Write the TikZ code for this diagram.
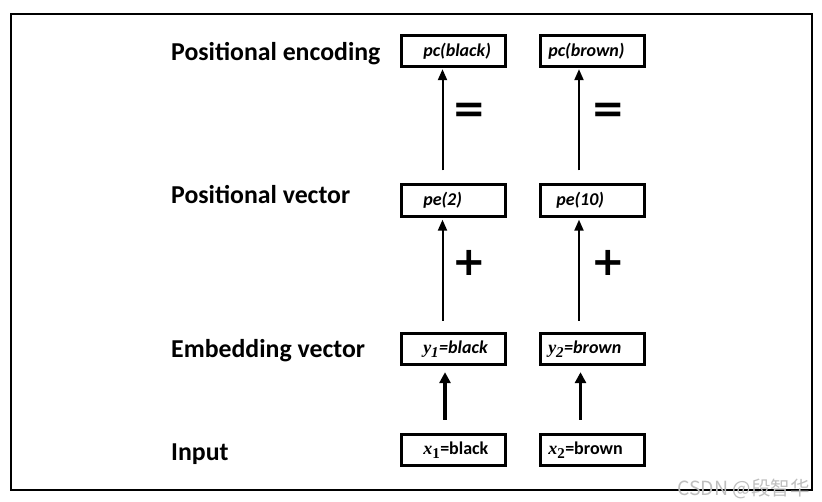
\documentclass[tikz,border=0pt]{standalone}
\usepackage{fontspec}
\setmainfont{Carlito}
\newfontfamily\mathlike{Liberation Serif}
\newfontfamily\heavy{DejaVu Sans}
\newfontfamily\cjk{Noto Sans CJK SC}
\usetikzlibrary{arrows.meta}
\tikzset{
  box/.style={draw, line width=2.8pt, minimum width=104.5pt, minimum height=31.5pt,
    inner sep=0pt, text width=104.5pt, align=left,
    font=\fontsize{18}{18}\selectfont\bfseries\itshape},
  rowlabel/.style={anchor=base west, inner sep=0pt, font=\fontsize{25.8}{25.8}\selectfont\bfseries},
  upar/.style={line width=2pt, -{Triangle[length=11pt,width=9pt]}},
  lowar/.style={line width=3.5pt, -{Triangle[length=11pt,width=11pt]}},
  sym/.style={inner sep=0pt, font=\heavy\bfseries\fontsize{40}{40}\selectfont},
}
\newcommand{\vx}[2]{{\mathlike\bfseries\itshape #1}\textsubscript{\mathlike\bfseries\fontsize{15}{15}\selectfont #2}}
\begin{document}
\begin{tikzpicture}[x=1pt,y=-1pt]
\useasboundingbox (0,0) rectangle (822,501);
\fill[white] (0,0) rectangle (822,501);
\draw[line width=1.4pt] (11,14) rectangle (812,490);

% row labels
\node[rowlabel] (l1) at (171,60) {Positional encoding};
\node[rowlabel] (l2) at (171,203) {Positional vector};
\node[rowlabel] (l3) at (171,357) {Embedding vector};
\node[rowlabel] (l4) at (171,460) {Input};

% boxes
\node[box] (pca) at (453.5,51) {\raisebox{2pt}{\hspace*{22pt}pc(black)}};
\node[box] (pcb) at (592.5,51) {\raisebox{2pt}{\hspace*{8pt}pc(brown)}};
\node[box] (pea) at (453.5,200.5) {\raisebox{2pt}{\hspace*{22pt}pe(2)}};
\node[box] (peb) at (592.5,200.5) {\raisebox{2pt}{\hspace*{16pt}pe(10)}};
\node[box] (ya) at (453.5,349) {\raisebox{2pt}{\hspace*{22pt}\vx{y}{1}=black}};
\node[box] (yb) at (592.5,349) {\raisebox{2pt}{\hspace*{8pt}\vx{y}{2}=brown}};
\node[box,font=\fontsize{18}{18}\selectfont\bfseries] (xa) at (453.5,450) {\raisebox{2pt}{\hspace*{22pt}\vx{x}{1}=black}};
\node[box,font=\fontsize{18}{18}\selectfont\bfseries] (xb) at (592.5,450) {\raisebox{2pt}{\hspace*{8pt}\vx{x}{2}=brown}};

% arrows
\draw[upar] ([xshift=-11pt,yshift=13pt]pea.north) -- ([xshift=-11pt,yshift=-1pt]pca.south);
\draw[upar] ([xshift=-13.5pt,yshift=13pt]peb.north) -- ([xshift=-13.5pt,yshift=-1pt]pcb.south);
\draw[upar] ([xshift=-11pt,yshift=11pt]ya.north) -- ([xshift=-11pt,yshift=-2pt]pea.south);
\draw[upar] ([xshift=-13.5pt,yshift=11pt]yb.north) -- ([xshift=-13.5pt,yshift=-2pt]peb.south);
\draw[lowar] ([xshift=-8.5pt,yshift=13pt]xa.north) -- ([xshift=-8.5pt,yshift=-6pt]ya.south);
\draw[lowar] ([xshift=-12pt,yshift=13pt]xb.north) -- ([xshift=-12pt,yshift=-6pt]yb.south);

% operators
\node[sym] (eqa) at (469,113) {=};
\node[sym] (eqb) at (608,113) {=};
\node[sym] (pla) at (469,263) {+};
\node[sym] (plb) at (608,263) {+};

% watermark
\node[anchor=base east, inner sep=0pt, text=black!25, font=\cjk\fontsize{19.5}{19.5}\selectfont] (wm) at (810,495) {CSDN @段智华};
\end{tikzpicture}
\end{document}
